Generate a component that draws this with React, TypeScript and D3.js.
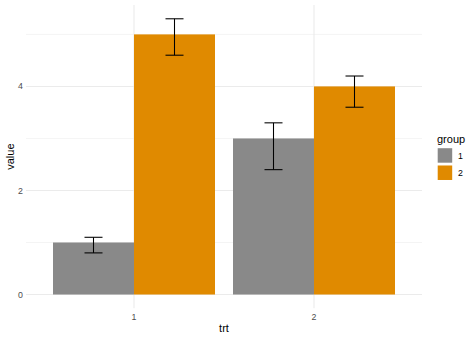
import React from "react";
import * as d3 from "d3";

const categories = ["1", "2"];
const groups = ["1", "2"];
const values = [
  [1, 5],
  [3, 4],
];
const lowers = [
  [0.8, 4.6],
  [2.4, 3.6],
];
const uppers = [
  [1.1, 5.3],
  [3.3, 4.2],
];
const yTicks = [0, 2, 4];
const yMinor = [1, 3, 5];
const colors = ["#898989", "#E08A00"];

const W = 474;
const H = 338;
const panel = { left: 26, right: 422, top: 5, bottom: 308.3 };
const font = "'Liberation Sans', Arial, sans-serif";

export default function App() {
  const yMax = 5.3;
  const pad = yMax * 0.05;
  const y = d3
    .scaleLinear()
    .domain([-pad, yMax + pad])
    .range([panel.bottom, panel.top]);
  const x = d3
    .scalePoint<string>()
    .domain(categories)
    .range([panel.left, panel.right])
    .padding(0.6 / 1);
  // scalePoint with padding 0.6 in step units: step = range/(n-1+2*padding)
  const step = x.step();
  const dodge = d3
    .scaleBand<string>()
    .domain(groups)
    .range([-0.45 * step, 0.45 * step])
    .padding(0);
  const bw = dodge.bandwidth();
  const capHalf = 0.05 * step;

  return (
    <svg
      width={W}
      height={H}
      style={{ position: "absolute", left: 0, top: 0, background: "#fff" }}
      fontFamily={font}
    >
      {yMinor.map((t) => (
        <line
          key={"mn" + t}
          x1={panel.left}
          x2={panel.right}
          y1={y(t)}
          y2={y(t)}
          stroke="#EBEBEB"
          strokeWidth={0.55}
        />
      ))}
      {yTicks.map((t) => (
        <line
          key={"mj" + t}
          x1={panel.left}
          x2={panel.right}
          y1={y(t)}
          y2={y(t)}
          stroke="#EBEBEB"
          strokeWidth={1.07}
        />
      ))}
      {categories.map((c) => (
        <line
          key={"vx" + c}
          x1={x(c)}
          x2={x(c)}
          y1={panel.top}
          y2={panel.bottom}
          stroke="#EBEBEB"
          strokeWidth={1.07}
        />
      ))}
      {categories.map((c, ci) =>
        groups.map((g, gi) => (
          <rect
            key={"b" + ci + gi}
            x={(x(c) as number) + (dodge(g) as number)}
            width={bw}
            y={y(values[ci][gi])}
            height={y(0) - y(values[ci][gi])}
            fill={colors[gi]}
          />
        ))
      )}
      {categories.map((c, ci) =>
        groups.map((g, gi) => {
          const cx = (x(c) as number) + (dodge(g) as number) + bw / 2;
          const yt = y(uppers[ci][gi]);
          const yb = y(lowers[ci][gi]);
          return (
            <g key={"e" + ci + gi} stroke="#000" strokeWidth={1.07}>
              <line x1={cx - capHalf} x2={cx + capHalf} y1={yt} y2={yt} />
              <line x1={cx - capHalf} x2={cx + capHalf} y1={yb} y2={yb} />
              <line x1={cx} x2={cx} y1={yt} y2={yb} />
            </g>
          );
        })
      )}
      {yTicks.map((t) => (
        <text
          key={"yl" + t}
          x={23}
          y={y(t)}
          dy="0.35em"
          textAnchor="end"
          fontSize={8.8}
          fill="#4D4D4D"
        >
          {t}
        </text>
      ))}
      {categories.map((c) => (
        <text
          key={"xl" + c}
          x={x(c)}
          y={320}
          textAnchor="middle"
          fontSize={8.8}
          fill="#4D4D4D"
        >
          {c}
        </text>
      ))}
      <text x={224} y={332} textAnchor="middle" fontSize={11} fill="#000">
        trt
      </text>
      <text
        transform={`translate(13.5, ${(panel.top + panel.bottom) / 2}) rotate(-90)`}
        textAnchor="middle"
        fontSize={11}
        fill="#000"
      >
        value
      </text>
      <text x={437} y={143} fontSize={11} fill="#000">
        group
      </text>
      {groups.map((g, gi) => (
        <g key={"lg" + g}>
          <rect
            x={437.7}
            y={148.2 + gi * 17.28}
            width={14.5}
            height={14.5}
            fill={colors[gi]}
          />
          <text
            x={458}
            y={148.2 + gi * 17.28 + 7.5}
            dy="0.35em"
            fontSize={8.8}
            fill="#000"
          >
            {g}
          </text>
        </g>
      ))}
    </svg>
  );
}
